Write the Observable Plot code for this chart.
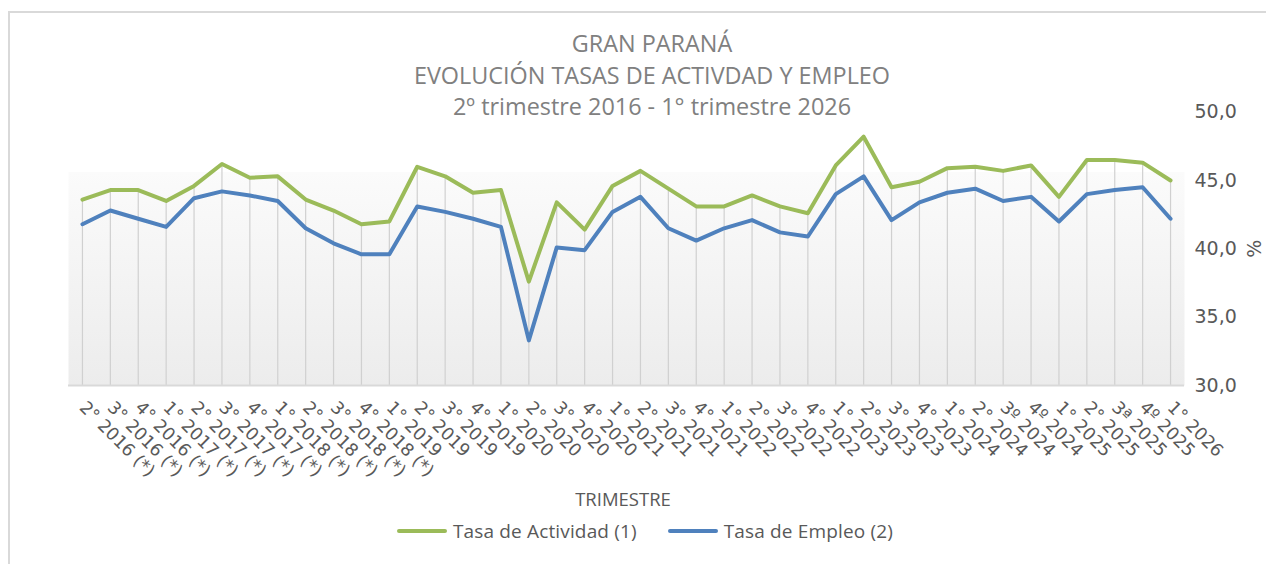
<!DOCTYPE html>
<html>
<head>
<meta charset="utf-8">
<script src="https://cdn.jsdelivr.net/npm/d3@7"></script>
<script src="https://cdn.jsdelivr.net/npm/@observablehq/plot@0.6"></script>
<style>
  html, body { margin: 0; padding: 0; background: #fff; overflow: hidden; width: 1266px; height: 564px; }
  #wrap { position: relative; width: 1266px; height: 564px; }
  #border { position: absolute; left: 8px; top: 11px; width: 1300px; height: 600px; border-left: 2px solid #d9d9d9; border-top: 2px solid #d9d9d9; }
  #chart { position: absolute; left: 0; top: 0; }
  .title { position: absolute; left: 0; width: 1304px; text-align: center; font-family: "Open Sans", sans-serif; font-size: 23.4px; color: #808080; line-height: 1; }
  #xtitle { position: absolute; left: 0; width: 1246px; top: 486px; text-align: center; font-family: "Open Sans", sans-serif; font-size: 18.5px; color: #595959; }
  #legend { position: absolute; top: 518px; left: 397px; font-family: "Open Sans", sans-serif; font-size: 19px; letter-spacing: 0.15px; color: #595959; display: flex; align-items: center; white-space: nowrap; }
  .sw { display: inline-block; width: 50px; height: 4px; border-radius: 2px; margin-right: 6px; }
</style>
</head>
<body>
<div id="wrap">
  <div id="border"></div>
  <div id="chart"></div>
  <div class="title" style="top:32px">GRAN PARANÁ</div>
  <div class="title" style="top:64px">EVOLUCIÓN TASAS DE ACTIVDAD Y EMPLEO</div>
  <div class="title" style="top:95px">2º trimestre 2016 - 1° trimestre 2026</div>
  <div id="xtitle">TRIMESTRE</div>
  <div id="legend">
    <span class="sw" style="background:#9bbb59"></span><span>Tasa de Actividad (1)</span>
    <span class="sw" style="background:#4f81bd; margin-left:31px"></span><span>Tasa de Empleo (2)</span>
  </div>
</div>
<script>
const quarters = [
  "2° 2016 (*)", "3° 2016 (*)", "4° 2016 (*)",
  "1° 2017 (*)", "2° 2017 (*)", "3° 2017 (*)", "4° 2017 (*)",
  "1° 2018 (*)", "2° 2018 (*)", "3° 2018 (*)", "4° 2018 (*)",
  "1° 2019", "2° 2019", "3° 2019", "4° 2019",
  "1° 2020", "2° 2020", "3° 2020", "4° 2020",
  "1° 2021", "2° 2021", "3° 2021", "4° 2021",
  "1° 2022", "2° 2022", "3° 2022", "4° 2022",
  "1° 2023", "2° 2023", "3° 2023", "4° 2023",
  "1° 2024", "2° 2024", "3º 2024", "4º 2024",
  "1° 2025", "2° 2025", "3ª 2025", "4º 2025",
  "1° 2026"
];
const actividad = [
  43.6, 44.3, 44.3, 43.5, 44.6, 46.2, 45.2, 45.3, 43.6, 42.8, 41.8, 42.0,
  46.0, 45.3, 44.1, 44.3, 37.6, 43.4, 41.4, 44.6, 45.7, 44.4, 43.1, 43.1,
  43.9, 43.1, 42.6, 46.1, 48.2, 44.5, 44.9, 45.9, 46.0, 45.7, 46.1, 43.8,
  46.5, 46.5, 46.3, 45.0
];
const empleo = [
  41.8, 42.8, 42.2, 41.6, 43.7, 44.2, 43.9, 43.5, 41.5, 40.4, 39.6, 39.6,
  43.1, 42.7, 42.2, 41.6, 33.3, 40.1, 39.9, 42.7, 43.8, 41.5, 40.6, 41.5,
  42.1, 41.2, 40.9, 44.0, 45.3, 42.1, 43.4, 44.1, 44.4, 43.5, 43.8, 42.0,
  44.0, 44.3, 44.5, 42.2
];
const yTicks = [30, 35, 40, 45, 50];

const rows = quarters.map((q, i) => ({q, act: actividad[i], emp: empleo[i]}));
const fmt = d => d.toFixed(1).replace(".", ",");

const svg = Plot.plot({
  width: 1266,
  height: 490,
  marginLeft: 68,
  marginRight: 82,
  marginTop: 111.6,
  marginBottom: 105,
  style: {fontFamily: "DejaVu Sans, sans-serif", color: "#595959", background: "transparent", overflow: "visible"},
  x: {type: "point", domain: quarters, padding: 0.5},
  y: {domain: [30, 50]},
  marks: [
    Plot.frame({fill: "url(#bg)", stroke: null}),
    Plot.ruleX(rows, {x: "q", y1: 30, y2: "act", stroke: "#d0d0d0", strokeWidth: 1.2}),
    Plot.ruleY([30], {stroke: "#d9d9d9", strokeWidth: 2}),
    Plot.line(rows, {x: "q", y: "act", stroke: "#9bbb59", strokeWidth: 4, strokeLinejoin: "round", strokeLinecap: "round"}),
    Plot.line(rows, {x: "q", y: "emp", stroke: "#4f81bd", strokeWidth: 4, strokeLinejoin: "round", strokeLinecap: "round"}),
    Plot.axisX({tickRotate: 45, tickSize: 0, tickPadding: 19, fontSize: 17.5, label: null, fill: "#595959"}),
    Plot.axisY({anchor: "right", ticks: yTicks, tickFormat: fmt, tickSize: 0, tickPadding: 10, fontSize: 19, fill: "#595959",
      label: "%", labelAnchor: "center", labelArrow: "none", labelOffset: 76})
  ]
});
d3.select(svg).insert("defs", ":first-child").html(
  `<linearGradient id="bg" x1="0" y1="0" x2="0" y2="1">
     <stop offset="0" stop-color="#ffffff"/>
     <stop offset="0.22" stop-color="#ffffff"/>
     <stop offset="0.22" stop-color="#fbfbfb"/>
     <stop offset="1" stop-color="#ececec"/>
   </linearGradient>`);
document.getElementById("chart").appendChild(svg);
</script>
</body>
</html>
